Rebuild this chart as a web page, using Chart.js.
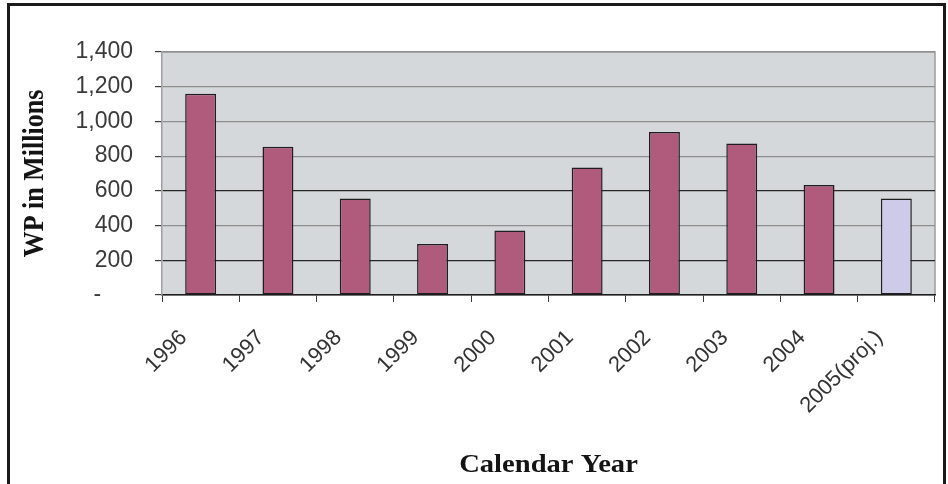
<!DOCTYPE html>
<html>
<head>
<meta charset="utf-8">
<script src="https://cdn.jsdelivr.net/npm/chart.js@4/dist/chart.umd.min.js"></script>
<style>
  html, body { margin: 0; padding: 0; background: #fff; }
  #wrap { position: relative; width: 948px; height: 484px; overflow: hidden; }
  #frame {
    position: absolute; left: 7px; top: 3px; width: 933px; height: 600px;
    border: 3px solid #1a1a1a; border-bottom: none; pointer-events: none;
  }
  canvas { display: block; }
</style>
</head>
<body>
<div id="wrap">
  <canvas id="chart" width="948" height="484"></canvas>
  <div id="frame"></div>
</div>
<script>
// Written premiums by calendar year (millions)
const years = ['1996', '1997', '1998', '1999', '2000', '2001', '2002', '2003', '2004', '2005(proj.)'];
const wpMillions = [1160, 854, 556, 294, 371, 734, 939, 873, 634, 556];
const barColors = ['#b05a7c', '#b05a7c', '#b05a7c', '#b05a7c', '#b05a7c', '#b05a7c', '#b05a7c', '#b05a7c', '#b05a7c', '#cdcbe8'];
const yTickValues = [0, 200, 400, 600, 800, 1000, 1200, 1400];
const yTitle = 'WP in Millions';
const xTitle = 'Calendar Year';

// grey panel behind the bars
const panelFill = {
  id: 'panelFill',
  beforeDraw(chart) {
    const { ctx, chartArea: a } = chart;
    ctx.save();
    ctx.fillStyle = '#d4d8da';
    ctx.fillRect(a.left, a.top, a.right - a.left, a.bottom - a.top);
    ctx.strokeStyle = '#9c9c9c';
    ctx.lineWidth = 1.5;
    ctx.beginPath();
    ctx.moveTo(a.left, a.top);
    ctx.lineTo(a.right, a.top);
    ctx.lineTo(a.right, a.bottom);
    ctx.stroke();
    ctx.restore();
  }
};

// serif axis titles, slightly widened
const axisTitles = {
  id: 'axisTitles',
  afterDraw(chart) {
    const { ctx, chartArea: a } = chart;
    ctx.save();
    ctx.fillStyle = '#141414';
    ctx.font = 'bold 26px "Liberation Serif", "DejaVu Serif", serif';
    ctx.textAlign = 'center';
    ctx.textBaseline = 'middle';
    ctx.translate(35, (a.top + a.bottom) / 2);
    ctx.scale(1.15, 1);
    ctx.rotate(-Math.PI / 2);
    ctx.fillText(yTitle, 0, 0);
    ctx.restore();

    ctx.save();
    ctx.fillStyle = '#141414';
    ctx.font = 'bold 26px "Liberation Serif", "DejaVu Serif", serif';
    ctx.textAlign = 'center';
    ctx.textBaseline = 'middle';
    ctx.translate((a.left + a.right) / 2, 465);
    ctx.scale(1.1, 1);
    ctx.fillText(xTitle, 0, 0);
    ctx.restore();
  }
};

const gridTone = (v) => (v === 0 || v === 200 || v === 600) ? '#262626' : '#8e8e8e';

new Chart(document.getElementById('chart'), {
  type: 'bar',
  data: {
    labels: years,
    datasets: [{
      data: wpMillions,
      backgroundColor: barColors,
      borderColor: '#1e1e1e',
      borderWidth: 1.5,
      borderSkipped: false,
      categoryPercentage: 1,
      barPercentage: 0.4
    }]
  },
  options: {
    responsive: false,
    animation: false,
    devicePixelRatio: 1,
    layout: { padding: { left: 0, right: 13, top: 52, bottom: 0 } },
    plugins: { legend: { display: false }, tooltip: { enabled: false } },
    scales: {
      x: {
        grid: {
          offset: true,
          drawOnChartArea: false,
          drawTicks: true,
          tickLength: 7,
          color: '#3a3a3a',
          lineWidth: 1
        },
        border: { display: true, color: '#1e1e1e', width: 1.5 },
        ticks: {
          minRotation: 45,
          maxRotation: 45,
          autoSkip: false,
          padding: 23,
          labelOffset: -17,
          color: '#333',
          font: { family: '"Liberation Sans", Arial, sans-serif', size: 22 }
        },
        afterFit(scale) { scale.height = 189; }
      },
      y: {
        min: 0,
        max: 1400,
        afterBuildTicks(scale) { scale.ticks = yTickValues.map(v => ({ value: v })); },
        grid: {
          drawTicks: true,
          tickLength: 7,
          color: (c) => gridTone(c.tick ? c.tick.value : -1),
          tickColor: '#3a3a3a',
          lineWidth: 1.2
        },
        border: { display: true, color: '#a0a0a0', width: 1.5 },
        ticks: {
          padding: 22,
          color: '#3a3a3a',
          font: { family: '"Liberation Sans", Arial, sans-serif', size: 23 },
          callback: (v) => v === 0 ? '-     ' : v.toLocaleString('en-US')
        },
        afterFit(scale) { scale.width = 162; }
      }
    }
  },
  plugins: [panelFill, axisTitles]
});
</script>
</body>
</html>
